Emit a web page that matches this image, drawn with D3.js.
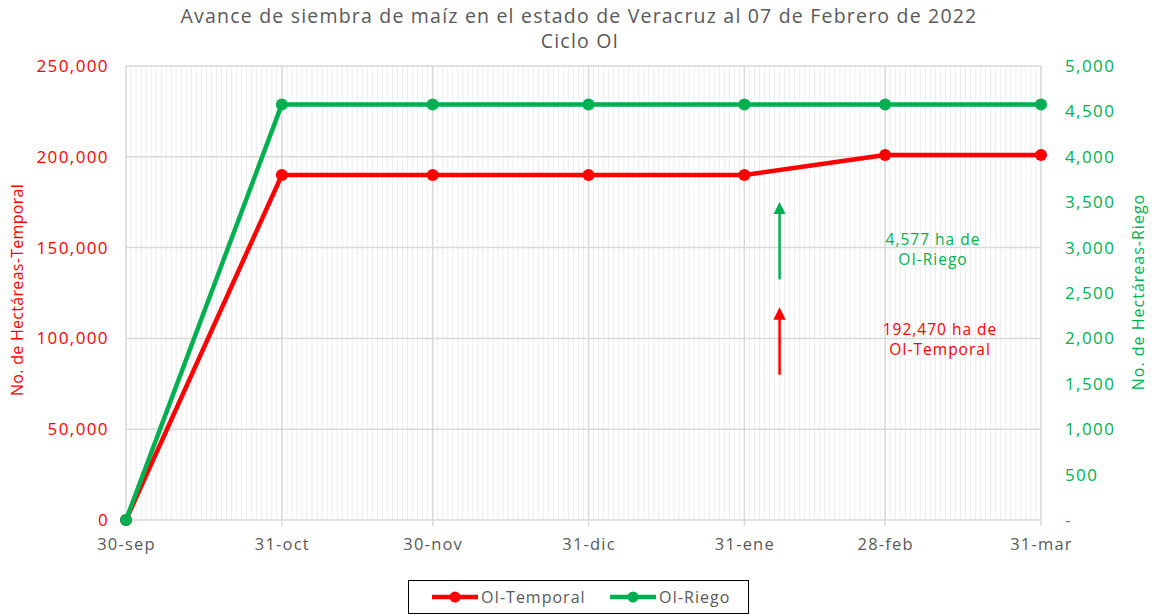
<!DOCTYPE html>
<html><head><meta charset="utf-8">
<script src="https://cdn.jsdelivr.net/npm/d3@7"></script>
<style>
body{margin:0;background:#fff;}
text{font-family:"Open Sans",sans-serif;}
</style></head>
<body><svg id="c" width="1153" height="615"></svg>
<script>
const dates = ["2021-09-30","2021-10-31","2021-11-30","2021-12-31","2022-01-31","2022-02-28","2022-03-31"];
const tickLabels = ["30-sep","31-oct","30-nov","31-dic","31-ene","28-feb","31-mar"];
const temporal = [0,190000,190000,190000,190000,201000,201000];
const riego = [0,4577,4577,4577,4577,4577,4577];
const leftTicks = [0,50000,100000,150000,200000,250000];
const rightTicks = [0,500,1000,1500,2000,2500,3000,3500,4000,4500,5000];
const reportDate = "2022-02-07";
const annoRiego = {from:2650, to:3500, label:["4,577 ha de","OI-Riego"]};
const annoTemporal = {from:80000, to:117000, label:["192,470 ha de","OI-Temporal"]};

const RED="#FF0000", GREEN="#00B050", GRAY="#595959";
const parse = d3.utcParse("%Y-%m-%d");
const svg = d3.select("#c");
const L=126,R=1041,T=66,B=520;
const x = d3.scaleUtc().domain([parse(dates[0]),parse(dates[dates.length-1])]).range([L,R]);
const yL = d3.scaleLinear().domain([0,250000]).range([B,T]);
const yR = d3.scaleLinear().domain([0,5000]).range([B,T]);

// minor daily gridlines
const days = d3.utcDay.range(parse(dates[0]), d3.utcDay.offset(parse(dates[dates.length-1]),1));
svg.append("g").selectAll("line").data(days).join("line")
  .attr("x1",d=>x(d)).attr("x2",d=>x(d)).attr("y1",T).attr("y2",B)
  .attr("stroke","#ededed").attr("stroke-width",1);
// horizontal gridlines
svg.append("g").selectAll("line").data(leftTicks).join("line")
  .attr("x1",L).attr("x2",R).attr("y1",d=>yL(d)).attr("y2",d=>yL(d))
  .attr("stroke","#d9d9d9").attr("stroke-width",1.5);
// major vertical gridlines
svg.append("g").selectAll("line").data(dates).join("line")
  .attr("x1",d=>x(parse(d))).attr("x2",d=>x(parse(d))).attr("y1",T).attr("y2",B+6)
  .attr("stroke","#d9d9d9").attr("stroke-width",1.5);

// x axis labels
const xAxis = d3.axisBottom(x).tickValues(dates.map(parse)).tickFormat((d,i)=>tickLabels[i]).tickSize(0).tickPadding(18);
const gx = svg.append("g").attr("transform",`translate(0,${B})`).call(xAxis);
gx.select(".domain").remove();
gx.selectAll("text").attr("fill",GRAY).style("font-size","16.5px").style("font-family","Open Sans").style("letter-spacing","1.2px");

// left axis
const gl = svg.append("g").attr("transform",`translate(${L},0)`)
  .call(d3.axisLeft(yL).tickValues(leftTicks).tickFormat(d3.format(",")).tickSize(0).tickPadding(17));
gl.select(".domain").remove();
gl.selectAll("text").attr("fill",RED).style("font-size","17px").style("letter-spacing","1.4px");
// right axis
const gr = svg.append("g").attr("transform",`translate(${R},0)`)
  .call(d3.axisRight(yR).tickValues(rightTicks).tickFormat(d=>d===0?"-":d3.format(",")(d)).tickSize(0).tickPadding(24));
gr.select(".domain").remove();
gr.selectAll("text").attr("fill",GREEN).style("font-size","17px").style("letter-spacing","1.4px");

// axis titles
svg.append("text").attr("transform",`translate(23,${290}) rotate(-90)`).attr("text-anchor","middle")
  .attr("fill",RED).style("font-size","16px").style("letter-spacing","0.3px").text("No. de Hectáreas-Temporal");
svg.append("text").attr("transform",`translate(1144,${292}) rotate(-90)`).attr("text-anchor","middle")
  .attr("fill",GREEN).style("font-size","16px").style("letter-spacing","1px").text("No. de Hectáreas-Riego");

// title
svg.append("text").attr("x",579).attr("y",23).attr("text-anchor","middle").attr("fill",GRAY)
  .style("font-size","19.5px").style("letter-spacing","1.2px").text("Avance de siembra de maíz en el estado de Veracruz al 07 de Febrero de 2022");
svg.append("text").attr("x",580).attr("y",48).attr("text-anchor","middle").attr("fill",GRAY)
  .style("font-size","19.5px").style("letter-spacing","1.2px").text("Ciclo OI");

// series
function series(vals, y, color){
  const pts = vals.map((v,i)=>[parse(dates[i]),v]);
  svg.append("path").datum(pts).attr("fill","none").attr("stroke",color).attr("stroke-width",4.5)
    .attr("stroke-linejoin","round")
    .attr("d",d3.line().x(d=>x(d[0])).y(d=>y(d[1])));
  svg.append("g").selectAll("circle").data(pts).join("circle")
    .attr("cx",d=>x(d[0])).attr("cy",d=>y(d[1])).attr("r",6).attr("fill",color);
}
series(temporal,yL,RED);
series(riego,yR,GREEN);

// annotations
const defs = svg.append("defs");
[["ag",GREEN],["ar",RED]].forEach(([id,c])=>{
  defs.append("marker").attr("id",id).attr("viewBox","0 0 10 10").attr("refX",5).attr("refY",5)
    .attr("markerWidth",5).attr("markerHeight",6).attr("orient","auto")
    .append("path").attr("d","M0,0 L10,5 L0,10 Z").attr("fill",c);
});
const ax = x(parse(reportDate));
svg.append("line").attr("x1",ax).attr("x2",ax).attr("y1",yR(annoRiego.from)).attr("y2",yR(annoRiego.to)+6)
  .attr("stroke",GREEN).attr("stroke-width",2.5).attr("marker-end","url(#ag)");
svg.append("line").attr("x1",ax).attr("x2",ax).attr("y1",yL(annoTemporal.from)).attr("y2",yL(annoTemporal.to)+6)
  .attr("stroke",RED).attr("stroke-width",2.5).attr("marker-end","url(#ar)");
svg.append("text").attr("text-anchor","middle").attr("fill",GREEN).style("font-size","15.5px").style("letter-spacing","1px")
  .selectAll("tspan").data(annoRiego.label).join("tspan").attr("x",933).attr("y",(d,i)=>245+i*20).text(d=>d);
svg.append("text").attr("text-anchor","middle").attr("fill",RED).style("font-size","15.5px").style("letter-spacing","1px")
  .selectAll("tspan").data(annoTemporal.label).join("tspan").attr("x",940).attr("y",(d,i)=>335+i*20).text(d=>d);

// legend
const lg = svg.append("g");
lg.append("rect").attr("x",408.5).attr("y",580.5).attr("width",340).attr("height",33)
  .attr("fill","#fff").attr("stroke","#000").attr("stroke-width",1);
[[RED,"OI-Temporal",432],[GREEN,"OI-Riego",610]].forEach(([c,t,x0])=>{
  lg.append("line").attr("x1",x0).attr("x2",x0+46).attr("y1",597).attr("y2",597).attr("stroke",c).attr("stroke-width",4.5);
  lg.append("circle").attr("cx",x0+23).attr("cy",597).attr("r",5.5).attr("fill",c);
  lg.append("text").attr("x",x0+49).attr("y",603).attr("fill",GRAY).style("font-size","16px").style("letter-spacing","1px").text(t);
});
</script></body></html>
